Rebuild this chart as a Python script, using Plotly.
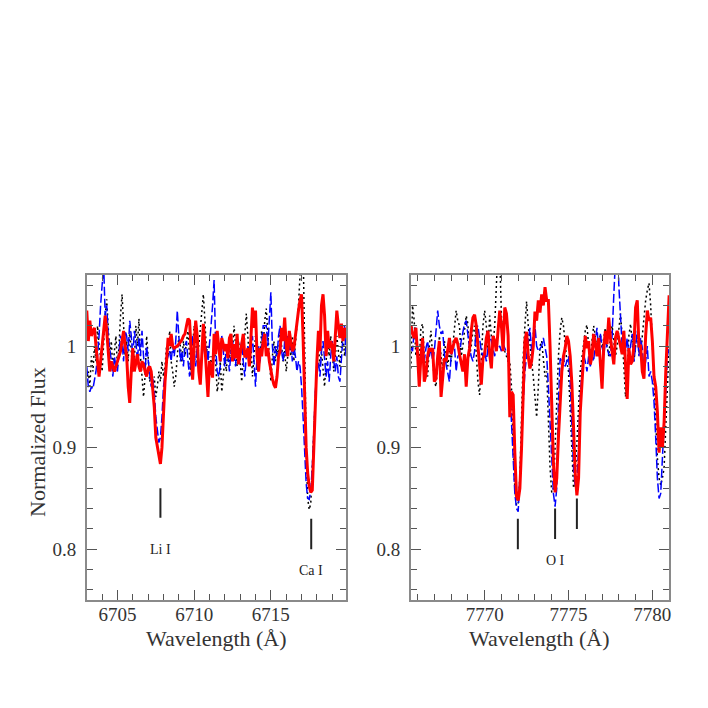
import numpy as np
import plotly.graph_objects as go

# ---------------- data ----------------
LEFT_START, RIGHT_START, STEP = 6703.0, 7765.6, 0.1

red_left = [
    1.035, 1.005, 1.025, 1.010, 1.015, 1.018, 1.000, 0.985, 0.970, 0.985,
    1.000, 1.020, 1.030, 1.015, 0.990, 0.975, 0.985, 0.980, 0.975, 0.980,
    0.985, 0.990, 0.995, 1.005, 1.015, 1.000, 0.990, 0.960, 0.944, 0.975,
    0.998, 0.975, 0.985, 0.992, 0.980, 0.975, 0.985, 0.982, 0.975, 0.970,
    0.978, 0.980, 0.975, 0.960, 0.940, 0.910, 0.900, 0.890, 0.884, 0.900,
    0.935, 0.965, 0.985, 1.008, 1.000, 1.012, 1.000, 0.998, 0.999, 1.000,
    1.002, 1.004, 1.006, 1.010, 1.012, 1.020, 1.027, 1.025, 0.990, 0.967,
    1.000, 1.025, 1.010, 0.975, 0.962, 0.990, 1.022, 1.000, 0.970, 0.950,
    0.985, 0.975, 0.969, 1.012, 0.992, 1.015, 0.998, 0.985, 1.008, 1.000,
    0.995, 1.002, 0.988, 1.008, 1.012, 0.985, 1.002, 0.988, 1.012, 0.982,
    0.992, 0.998, 1.012, 0.990, 0.990, 0.998, 0.980, 1.008, 1.038, 1.018,
    1.035, 0.990, 0.975, 0.998, 0.990, 1.005, 1.012, 0.990, 0.998, 0.985,
    0.975, 0.968, 0.962, 0.959, 0.970, 0.990, 0.995, 1.018, 1.005, 1.028,
    1.000, 0.990, 1.015, 1.002, 0.995, 0.998, 1.012, 1.025, 1.035, 1.045,
    1.051, 1.008, 0.950, 0.900, 0.875, 0.862, 0.856, 0.858, 0.900, 0.950,
    0.985, 1.015, 0.995, 1.040, 1.051, 1.030, 0.990, 1.015, 0.998, 1.005,
    1.000, 0.985, 1.008, 1.035, 1.020, 1.008, 1.022, 1.005, 1.018, 1.008,
]

blue_left = [
    0.980, 0.960, 0.955, 0.960, 0.958, 0.965, 0.975, 0.990, 1.010, 1.040,
    1.060, 1.080, 1.030, 1.040, 1.010, 1.000, 0.985, 0.970, 0.990, 0.980,
    0.975, 0.995, 1.010, 1.005, 0.985, 1.015, 1.010, 0.995, 1.025, 1.010,
    0.990, 1.015, 1.005, 0.985, 1.008, 0.990, 1.015, 0.990, 0.975, 1.000,
    0.985, 0.975, 0.960, 0.968, 0.955, 0.930, 0.915, 0.905, 0.910, 0.930,
    0.960, 0.975, 0.985, 0.990, 0.995, 0.985, 1.000, 0.990, 1.005, 1.035,
    1.010, 0.985, 0.995, 0.980, 1.000, 1.005, 0.985, 0.970, 0.990, 1.010,
    0.995, 0.980, 1.000, 0.985, 0.970, 0.990, 1.005, 0.990, 1.000, 0.985,
    1.000, 1.020, 1.040, 1.065, 1.000, 0.975, 0.970, 0.980, 1.010, 0.995,
    0.980, 1.000, 0.990, 0.975, 0.995, 1.005, 0.990, 0.980, 1.010, 0.985,
    0.995, 1.005, 0.985, 0.970, 0.990, 1.000, 0.980, 0.995, 1.010, 0.985,
    0.960, 0.990, 1.000, 0.985, 1.005, 1.020, 1.020, 1.020, 1.000, 1.030,
    1.053, 1.000, 0.980, 1.000, 0.990, 1.010, 1.020, 0.995, 0.985, 1.005,
    0.990, 1.010, 0.995, 1.005, 0.985, 1.000, 0.990, 0.975, 0.985, 0.980,
    0.960, 0.930, 0.900, 0.865, 0.850, 0.849, 0.858, 0.880, 0.915, 0.955,
    0.975, 0.985, 0.970, 0.995, 1.005, 0.985, 0.970, 0.985, 0.965, 0.990,
    1.005, 0.985, 0.975, 0.990, 0.970, 0.965, 0.990, 1.010, 1.020, 0.990,
]

black_left = [
    0.965, 0.975, 0.960, 0.990, 0.975, 1.000, 0.985, 1.020, 1.000, 0.990,
    0.975, 1.010, 1.030, 1.046, 1.020, 0.990, 1.005, 0.975, 0.995, 1.010,
    0.980, 1.000, 1.030, 1.051, 1.020, 0.990, 1.005, 0.985, 1.015, 0.995,
    0.975, 0.985, 1.020, 1.000, 1.027, 0.990, 0.965, 0.950, 0.970, 1.010,
    0.990, 0.965, 0.975, 0.955, 0.970, 0.950, 0.960, 0.975, 0.965, 0.985,
    0.970, 0.980, 1.000, 0.990, 1.015, 0.985, 0.975, 0.960, 0.970, 0.990,
    1.010, 1.000, 0.985, 1.005, 0.990, 1.005, 1.015, 0.990, 0.970, 1.000,
    1.020, 1.005, 0.985, 1.000, 1.020, 1.040, 1.051, 1.025, 0.995, 1.000,
    0.975, 0.990, 0.970, 1.000, 0.985, 0.955, 0.965, 0.985, 0.955, 0.970,
    0.990, 0.975, 1.000, 0.985, 1.010, 0.995, 1.020, 1.000, 0.980, 1.005,
    0.985, 0.965, 0.990, 1.015, 1.032, 1.010, 0.985, 1.000, 0.970, 0.990,
    1.010, 0.995, 0.975, 0.990, 1.015, 1.000, 1.025, 1.037, 1.010, 0.985,
    0.965, 0.990, 1.005, 0.985, 1.000, 0.990, 1.015, 1.000, 0.985, 0.995,
    0.975, 0.990, 1.005, 0.990, 1.010, 0.985, 1.000, 1.020, 1.040, 1.080,
    1.100, 1.100, 1.000, 0.900, 0.850, 0.839, 0.845, 0.880, 0.930, 0.960,
    0.985, 1.000, 0.980, 0.995, 0.975, 0.960, 0.985, 1.005, 0.990, 1.010,
    0.995, 0.975, 0.990, 1.010, 0.995, 0.980, 1.000, 1.015, 0.990, 1.000,
]

red_right = [
    1.020, 1.012, 1.008, 1.018,
    0.992, 0.960, 0.990, 1.008, 0.965, 0.972, 0.990, 0.998, 0.995, 0.998,
    0.965, 0.968, 0.990, 1.005, 0.950, 0.970, 0.988, 0.985, 0.998, 1.008,
    0.992, 0.998, 1.005, 1.008, 1.002, 0.992, 0.985, 0.975, 0.992, 0.960,
    0.988, 0.998, 1.015, 1.028, 1.031, 1.020, 1.000, 0.980, 0.962, 0.988,
    0.992, 1.008, 1.015, 0.992, 0.978, 1.010, 1.005, 0.995, 1.018, 1.035,
    1.020, 0.995, 1.038, 1.032, 1.010, 0.930, 0.955, 0.952, 0.895, 0.852,
    0.848, 0.860, 0.900, 0.960, 1.005, 1.014, 0.990, 0.978, 0.985, 1.000,
    1.034, 1.025, 1.045, 1.033, 1.051, 1.040, 1.058, 1.045, 1.045, 1.000,
    0.930, 0.885, 0.856, 0.870, 0.910, 0.940, 0.975, 0.990, 0.998, 1.010,
    1.005, 0.990, 0.963, 0.920, 0.875, 0.853, 0.870, 0.935, 0.970, 0.990,
    1.010, 0.998, 1.005, 0.982, 0.990, 1.012, 1.002, 0.990, 1.008, 0.985,
    0.958, 0.998, 1.015, 1.002, 1.028, 1.008, 0.992, 0.982, 1.008, 1.015,
    1.008, 0.998, 0.992, 1.015, 0.985, 0.948, 0.998, 0.982, 0.985, 1.000,
    1.038, 1.045, 1.000, 1.000, 0.975, 0.968, 1.010, 1.035, 1.025, 1.028,
    1.005, 0.970, 0.960, 0.935, 0.895, 0.920, 0.900, 0.925, 0.975, 1.020,
    1.050,
]

blue_right = [
    0.998, 0.995, 1.015, 1.018,
    0.990, 0.978, 0.985, 0.990, 0.985, 0.998, 1.005, 0.990, 0.998, 0.985,
    0.995, 1.020, 1.035, 1.020, 1.012, 1.015, 0.992, 0.982, 0.975, 0.965,
    0.990, 0.998, 1.000, 0.975, 0.990, 0.992, 1.005, 1.015, 1.022, 1.025,
    1.008, 0.998, 0.990, 0.985, 0.995, 1.018, 1.020, 1.005, 0.995, 0.990,
    0.995, 0.985, 1.000, 1.010, 1.005, 0.998, 0.990, 1.002, 0.998, 1.000,
    0.995, 1.002, 0.998, 0.995, 0.990, 0.960, 0.930, 0.890, 0.855, 0.840,
    0.837, 0.865, 0.905, 0.945, 0.975, 0.990, 1.005, 1.018, 0.995, 1.012,
    1.020, 1.000, 0.995, 0.998, 1.000, 1.008, 0.998, 0.990, 0.960, 0.920,
    0.880, 0.855, 0.842, 0.860, 0.945, 0.988, 0.985, 0.990, 0.980, 0.985,
    0.990, 0.965, 0.913, 0.880, 0.862, 0.865, 0.900, 0.950, 0.975, 0.992,
    0.985, 0.975, 0.990, 0.980, 0.990, 0.985, 1.005, 1.018, 0.995, 1.012,
    1.000, 0.990, 1.005, 0.998, 0.992, 0.990, 1.010, 1.050, 1.100, 1.120,
    1.060, 1.030, 1.000, 1.015, 0.995, 1.008, 0.990, 1.000, 1.012, 0.985,
    1.000, 1.015, 0.990, 1.008, 0.998, 0.975, 0.985, 1.000, 0.970, 0.975,
    0.965, 0.945, 0.910, 0.870, 0.850, 0.855, 0.890, 0.930, 0.955, 0.990,
    1.000,
]

black_right = [
    0.978, 1.040, 1.025, 0.990,
    1.000, 0.985, 1.018, 1.022, 0.990, 0.975, 0.970, 1.000, 1.015, 0.990,
    0.965, 0.960, 0.985, 1.010, 0.990, 0.975, 1.005, 0.990, 0.980, 0.995,
    0.985, 1.000, 1.015, 1.035, 1.025, 1.020, 0.990, 1.000, 1.015, 1.030,
    1.022, 0.990, 1.000, 1.015, 1.020, 0.990, 0.965, 0.952, 0.985, 1.020,
    1.035, 1.020, 0.995, 1.030, 1.010, 1.000, 1.020, 1.060, 1.100, 1.090,
    1.030, 1.005, 0.995, 0.990, 0.985, 0.985, 0.960, 0.900, 0.860, 0.843,
    0.845, 0.870, 0.930, 0.990, 1.020, 1.044, 1.020, 1.000, 0.985, 0.970,
    0.945, 0.930, 0.960, 1.000, 1.005, 0.985, 0.970, 0.975, 0.930, 0.880,
    0.856, 0.860, 0.900, 0.950, 0.990, 1.015, 1.028, 1.020, 1.000, 0.985,
    0.975, 0.940, 0.890, 0.860, 0.870, 0.900, 0.940, 0.975, 0.990, 1.000,
    1.015, 1.021, 1.000, 0.990, 1.005, 1.020, 1.010, 0.995, 1.000, 1.012,
    0.998, 1.008, 1.018, 1.000, 0.990, 1.008, 1.020, 1.005, 0.990, 1.000,
    1.015, 1.032, 1.010, 0.975, 0.950, 0.975, 1.010, 1.022, 1.000, 0.985,
    1.000, 1.012, 0.995, 0.990, 1.010, 1.030, 1.045, 1.055, 1.062, 1.040,
    1.000, 0.960, 0.920, 0.890, 0.870, 0.863, 0.870, 0.880, 0.920, 0.970,
    1.000,
]

# line identifications
left_lines_wl = [6707.8, 6717.63]
left_lines_top = [0.860, 0.830]
left_lines_bot = [0.831, 0.800]
left_labels = ["Li I", "Ca I"]
left_label_y = [0.800, 0.779]

right_lines_wl = [7771.98, 7774.2, 7775.5]
right_lines_top = [0.830, 0.840, 0.850]
right_lines_bot = [0.800, 0.810, 0.820]
right_label = "O I"
right_label_wl = 7774.2
right_label_y = 0.789

x_ranges = [[6703.0, 6719.9], [7765.6, 7781.0]]
y_range = [0.75, 1.07]
y_tickvals = [0.8, 0.9, 1.0]
y_ticktext = ["0.8", "0.9", "1"]
x_tickvals = [[6705, 6710, 6715], [7770, 7775, 7780]]

# ---------------- figure ----------------
def grid(start, n):
    return np.round(start + STEP * np.arange(n), 2)

FONT = "Liberation Serif"
AX_LINE = "#8a8a8a"
TICK_C = "#555555"
TXT_C = "#333333"
OFF = 8  # page body margin offset

W = H = 708
def px_x(p):
    return (p - OFF) / W
def px_y(p):
    return 1 - (p - OFF) / H

fig = go.Figure()

panels = [
    ("x", "y", LEFT_START, black_left, blue_left, red_left),
    ("x2", "y2", RIGHT_START, black_right, blue_right, red_right),
]
for xa, ya, start, blk, blu, red in panels:
    fig.add_trace(go.Scatter(x=grid(start, len(blk)), y=blk, xaxis=xa, yaxis=ya,
                             mode="lines", line=dict(color="black", width=1.5, dash="2px,3px"),
                             showlegend=False, hoverinfo="skip"))
    fig.add_trace(go.Scatter(x=grid(start, len(blu)), y=blu, xaxis=xa, yaxis=ya,
                             mode="lines", line=dict(color="#0000ff", width=1.5, dash="9px,3px"),
                             showlegend=False, hoverinfo="skip"))
    fig.add_trace(go.Scatter(x=grid(start, len(red)), y=red, xaxis=xa, yaxis=ya,
                             mode="lines", line=dict(color="#ff0000", width=3),
                             showlegend=False, hoverinfo="skip"))

# identification ticks
for wl, t, b in zip(left_lines_wl, left_lines_top, left_lines_bot):
    fig.add_trace(go.Scatter(x=[wl, wl], y=[b, t], xaxis="x", yaxis="y", mode="lines",
                             line=dict(color="#222222", width=2), showlegend=False, hoverinfo="skip"))
for wl, t, b in zip(right_lines_wl, right_lines_top, right_lines_bot):
    fig.add_trace(go.Scatter(x=[wl, wl], y=[b, t], xaxis="x2", yaxis="y2", mode="lines",
                             line=dict(color="#222222", width=2), showlegend=False, hoverinfo="skip"))

annotations = []
for wl, lab, yy in zip(left_lines_wl, left_labels, left_label_y):
    annotations.append(dict(x=wl, y=yy, xref="x", yref="y", text=lab, showarrow=False,
                            yanchor="middle", font=dict(family=FONT, size=14, color="#222222")))
annotations.append(dict(x=right_label_wl, y=right_label_y, xref="x2", yref="y2", text=right_label,
                        showarrow=False, yanchor="middle",
                        font=dict(family=FONT, size=14, color="#222222")))

dom_x = [[px_x(87), px_x(347)], [px_x(412), px_x(671)]]
dom_y = [px_y(600), px_y(275)]

for i, dx in enumerate(dom_x):
    cx = (dx[0] + dx[1]) / 2
    annotations.append(dict(x=cx, y=px_y(638), xref="paper", yref="paper",
                            xanchor="center", yanchor="middle",
                            text="Wavelength (Å)", showarrow=False,
                            font=dict(family=FONT, size=22, color=TXT_C)))
annotations.append(dict(x=px_x(38), y=px_y(442), xref="paper", yref="paper",
                        xanchor="center", yanchor="middle",
                        text="Normalized Flux", textangle=-90, showarrow=False,
                        font=dict(family=FONT, size=22, color=TXT_C)))

axis_common = dict(showgrid=False, zeroline=False, showline=True, linecolor=AX_LINE, linewidth=1.5,
                   mirror="allticks", ticks="inside", ticklen=10, tickwidth=1, tickcolor=TICK_C,
                   tickfont=dict(family=FONT, size=19, color=TXT_C))

layout = dict(width=W, height=H, autosize=False, margin=dict(l=0, r=0, t=0, b=0),
              paper_bgcolor="white", plot_bgcolor="white", annotations=annotations, showlegend=False)

for i in range(2):
    xk = "xaxis" if i == 0 else "xaxis2"
    yk = "yaxis" if i == 0 else "yaxis2"
    layout[xk] = dict(axis_common, domain=dom_x[i], range=x_ranges[i], tickmode="array",
                      tickvals=x_tickvals[i], ticktext=[str(v) for v in x_tickvals[i]],
                      anchor="y" if i == 0 else "y2", ticklabelstandoff=-4,
                      minor=dict(dtick=1, tick0=0, ticklen=6, tickcolor=TICK_C, ticks="inside"))
    layout[yk] = dict(axis_common, domain=dom_y, range=y_range, tickmode="array",
                      tickvals=y_tickvals, ticktext=y_ticktext, ticklabelstandoff=5,
                      anchor="x" if i == 0 else "x2",
                      minor=dict(dtick=0.02, tick0=0, ticklen=6, tickcolor=TICK_C, ticks="inside"))

fig.update_layout(**layout)
fig.write_html("out.html")
